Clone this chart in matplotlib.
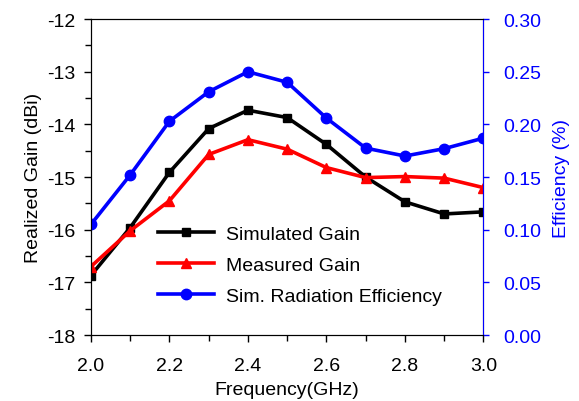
import matplotlib
matplotlib.use("Agg")
import matplotlib.pyplot as plt
from matplotlib.ticker import MultipleLocator, FormatStrFormatter

plt.rcParams['font.family'] = ['Liberation Sans', 'DejaVu Sans']
plt.rcParams['axes.unicode_minus'] = False

freq = [2.0, 2.1, 2.2, 2.3, 2.4, 2.5, 2.6, 2.7, 2.8, 2.9, 3.0]
sim_gain = [-16.87, -15.96, -14.91, -14.08, -13.73, -13.87, -14.38, -15.0, -15.47, -15.70, -15.66]
meas_gain = [-16.70, -16.02, -15.45, -14.57, -14.29, -14.47, -14.82, -15.01, -14.99, -15.02, -15.20]
sim_eff = [0.105, 0.152, 0.203, 0.231, 0.250, 0.240, 0.206, 0.1775, 0.170, 0.177, 0.187]

fig = plt.figure(figsize=(5.79, 4.02), dpi=100)
ax = fig.add_axes([0.157, 0.164, 0.678, 0.786])
ax2 = ax.twinx()

fs = 14
l1, = ax.plot(freq, sim_gain, color='black', lw=2.6, marker='s', ms=5.8, label='Simulated Gain')
l2, = ax.plot(freq, meas_gain, color='red', lw=2.6, marker='^', ms=7, label='Measured Gain')
l3, = ax2.plot(freq, sim_eff, color='blue', lw=2.6, marker='o', ms=7.5, label='Sim. Radiation Efficiency')

ax.set_xlim(2.0, 3.0)
ax.set_ylim(-18, -12)
ax2.set_ylim(0, 0.30)

ax.xaxis.set_major_locator(MultipleLocator(0.2))
ax.xaxis.set_minor_locator(MultipleLocator(0.1))
ax.xaxis.set_major_formatter(FormatStrFormatter('%.1f'))
ax.yaxis.set_major_locator(MultipleLocator(1))
ax.yaxis.set_minor_locator(MultipleLocator(0.5))
ax.yaxis.set_major_formatter(FormatStrFormatter('%d'))
ax2.yaxis.set_major_locator(MultipleLocator(0.05))
ax2.yaxis.set_major_formatter(FormatStrFormatter('%.2f'))

ax.tick_params(axis='both', which='major', direction='out', length=5, width=1, labelsize=fs, top=False)
ax.tick_params(axis='both', which='minor', direction='out', length=4, width=1, top=False)
ax.tick_params(axis='y', which='major', pad=6)
ax.tick_params(axis='x', which='major', pad=11)
ax2.tick_params(axis='y', which='major', direction='out', length=4, width=1, labelsize=fs,
                colors='blue', pad=10)

ax2.spines['right'].set_color('blue')
for s in ['left', 'top', 'bottom']:
    ax2.spines[s].set_color('black')

ax.set_xlabel('Frequency(GHz)', fontsize=fs, labelpad=5)
ax.set_ylabel('Realized Gain (dBi)', fontsize=fs, labelpad=4)
ax2.set_ylabel('Efficiency (%)', fontsize=fs, color='blue', labelpad=9)

ax2.legend(handles=[l1, l2, l3], loc='upper left', bbox_to_anchor=(0.15, 0.372),
           frameon=False, fontsize=fs, handlelength=2.9, handletextpad=0.6,
           labelspacing=0.68, borderaxespad=0)

fig.savefig('out.png', dpi=100)
